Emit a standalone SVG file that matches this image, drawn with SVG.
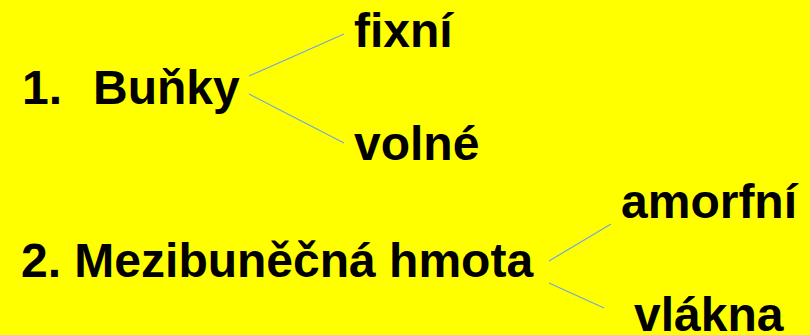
<svg xmlns="http://www.w3.org/2000/svg" width="810" height="335" viewBox="0 0 810 335">
<style>
text{font-family:"Liberation Sans",Arial,sans-serif;font-weight:bold;font-size:48px;fill:#000}
.c line{stroke:#6fa8dc;stroke-width:1.2}
</style>
<rect width="810" height="335" fill="#ffff00"/>
<g class="c" id="connectors">
<line x1="249" y1="76" x2="344" y2="34"/>
<line x1="249" y1="94" x2="344" y2="143"/>
<line x1="549" y1="261" x2="611" y2="224"/>
<line x1="549" y1="283" x2="604" y2="308"/>
</g>
<g id="n1"><text x="22" y="104">1.</text><text x="93" y="104">Buňky</text></g>
<g id="n2"><text x="354" y="47">fixní</text></g>
<g id="n3"><text x="354" y="160">volné</text></g>
<g id="n4"><text x="21" y="277">2. Mezibuněčná hmota</text></g>
<g id="n5"><text x="621" y="218">amorfní</text></g>
<g id="n6"><text x="634" y="331">vlákna</text></g>
</svg>
